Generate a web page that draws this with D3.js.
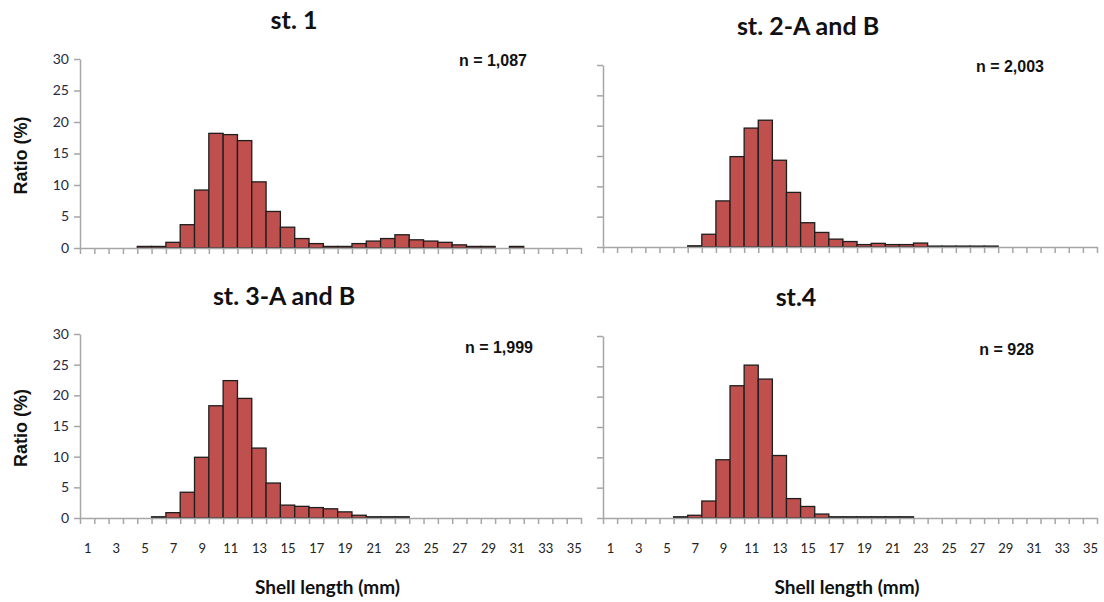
<!DOCTYPE html>
<html>
<head>
<meta charset="utf-8">
<script src="https://cdn.jsdelivr.net/npm/d3@7"></script>
<style>
  body { margin: 0; background: #fff; }
  svg { display: block; }
</style>
</head>
<body>
<svg id="chart"></svg>
<script>
var width = 1104,
    height = 602;

// shell length classes (mm)
var categories = [1,2,3,4,5,6,7,8,9,10,11,12,13,14,15,16,17,18,19,20,21,22,23,24,25,26,27,28,29,30,31,32,33,34,35];
var tickLabels = [1,3,5,7,9,11,13,15,17,19,21,23,25,27,29,31,33,35];
var yTicks = [0,5,10,15,20,25,30];

// ratio (%) per class
var st1 = [0,0,0,0,0.25,0.25,0.9,3.7,9.2,18.2,18.0,17.05,10.5,5.8,3.3,1.5,0.7,0.25,0.25,0.7,1.1,1.5,2.1,1.3,1.1,0.9,0.5,0.25,0.25,0,0.25,0,0,0,0];
var st2 = [0,0,0,0,0,0,0.2,2.1,7.6,14.9,19.6,20.9,14.3,9.0,4.0,2.4,1.3,0.9,0.4,0.6,0.4,0.4,0.65,0.15,0.15,0.15,0.15,0.15,0,0,0,0,0,0,0];
var st3 = [0,0,0,0,0,0.2,0.87,4.2,9.9,18.3,22.4,19.5,11.4,5.7,2.1,1.9,1.7,1.5,1.0,0.45,0.2,0.2,0.2,0,0,0,0,0,0,0,0,0,0,0,0];
var st4 = [0,0,0,0,0,0.2,0.45,2.8,9.6,21.8,25.2,22.9,10.3,3.2,1.9,0.65,0.2,0.2,0.2,0.2,0.2,0.2,0,0,0,0,0,0,0,0,0,0,0,0,0];

var titles = ["st. 1", "st. 2-A and B", "st. 3-A and B", "st.4"];
var nLabels = ["n = 1,087", "n = 2,003", "n = 1,999", "n = 928"];

var svg = d3.select('#chart')
    .attr('width', width)
    .attr('height', height);

var panels = [
  {data: st1, x0: 80,  x1: 581,  top: 59,  bottom: 248, left: true,  xlab: false,
   title: [294, 29], n: [527, 66]},
  {data: st2, x0: 603, x1: 1097, top: 65,  bottom: 247, left: false, xlab: false,
   title: [808, 35], n: [1044, 72]},
  {data: st3, x0: 80,  x1: 581,  top: 334, bottom: 518, left: true,  xlab: true,
   title: [284, 305], n: [533, 353]},
  {data: st4, x0: 603, x1: 1097, top: 336, bottom: 518, left: false, xlab: true,
   title: [796, 306], n: [1034, 355]}
];

var axisColor = '#a6a6a6';

panels.forEach(function(p, k) {
  var x = d3.scaleLinear().domain([0.5, 35.5]).range([p.x0, p.x1]);
  var y = d3.scaleLinear().domain([0, 30]).range([p.bottom, p.top]);
  var g = svg.append('g');

  // bars
  g.selectAll('rect')
    .data(categories.map(function(c, i) { return {c: c, v: p.data[i]}; })
      .filter(function(d) { return d.v > 0; }))
    .enter().append('rect')
    .attr('x', function(d) { return x(d.c - 0.5); })
    .attr('width', function(d) { return x(d.c + 0.5) - x(d.c - 0.5); })
    .attr('y', function(d) { return y(d.v); })
    .attr('height', function(d) { return y(0) - y(d.v); })
    .attr('fill', '#c0504d')
    .attr('stroke', '#1e1e1e')
    .attr('stroke-width', 1.3);

  // x axis: ticks on class boundaries
  var xb = g.append('g')
    .attr('transform', 'translate(0,' + p.bottom + ')')
    .call(d3.axisBottom(x)
      .tickValues(categories.map(function(c) { return c - 0.5; }).concat([35.5]))
      .tickSize(6).tickSizeOuter(0).tickFormat(''));
  xb.selectAll('path, line').attr('stroke', axisColor).attr('stroke-width', 1.5);

  // x labels (odd classes)
  if (p.xlab) {
    var xl = g.append('g')
      .attr('transform', 'translate(0,' + (p.bottom + 23) + ')')
      .call(d3.axisBottom(x).tickValues(tickLabels).tickSize(0));
    xl.select('.domain').remove();
    xl.selectAll('text')
      .attr('font-family', '"Liberation Sans Narrow", Lato, sans-serif')
      .attr('font-size', 13)
      .attr('fill', '#222');
  }

  // y axis
  var ya = g.append('g')
    .attr('transform', 'translate(' + p.x0 + ',0)')
    .call(d3.axisLeft(y).tickValues(yTicks).tickSize(6).tickSizeOuter(0)
      .tickFormat(p.left ? d3.format('d') : ''));
  ya.selectAll('path, line').attr('stroke', axisColor).attr('stroke-width', 1.5);
  ya.selectAll('text')
    .attr('x', -11)
    .attr('font-family', 'Lato, "Open Sans", sans-serif')
    .attr('font-size', 14)
    .attr('fill', '#1f2a44');

  if (p.left) {
    g.append('text')
      .text('Ratio (%)')
      .attr('transform', 'translate(27,' + ((p.top + p.bottom) / 2 + 2) + ') rotate(-90)')
      .attr('font-family', '"Liberation Sans", Arial, sans-serif')
      .attr('font-weight', 'bold')
      .attr('font-size', 18)
      .attr('fill', '#111')
      .style('text-anchor', 'middle');
  }

  // title
  g.append('text')
    .text(titles[k])
    .attr('x', p.title[0])
    .attr('y', p.title[1])
    .attr('font-family', 'Lato, "Open Sans", sans-serif')
    .attr('font-weight', 'bold')
    .attr('font-size', 25)
    .attr('fill', '#111')
    .style('text-anchor', 'middle');

  // sample size
  g.append('text')
    .text(nLabels[k])
    .attr('x', p.n[0])
    .attr('y', p.n[1])
    .attr('font-family', '"Liberation Sans", Arial, sans-serif')
    .attr('font-weight', 'bold')
    .attr('font-size', 16)
    .attr('fill', '#111')
    .style('text-anchor', 'end');

  if (p.xlab) {
    g.append('text')
      .text('Shell length (mm)')
      .attr('x', (p.x0 + p.x1) / 2 - 3)
      .attr('y', 594)
      .attr('font-family', 'Lato, "Open Sans", sans-serif')
      .attr('font-weight', 'bold')
      .attr('font-size', 19)
      .attr('fill', '#111')
      .style('text-anchor', 'middle');
  }
});
</script>
</body>
</html>
